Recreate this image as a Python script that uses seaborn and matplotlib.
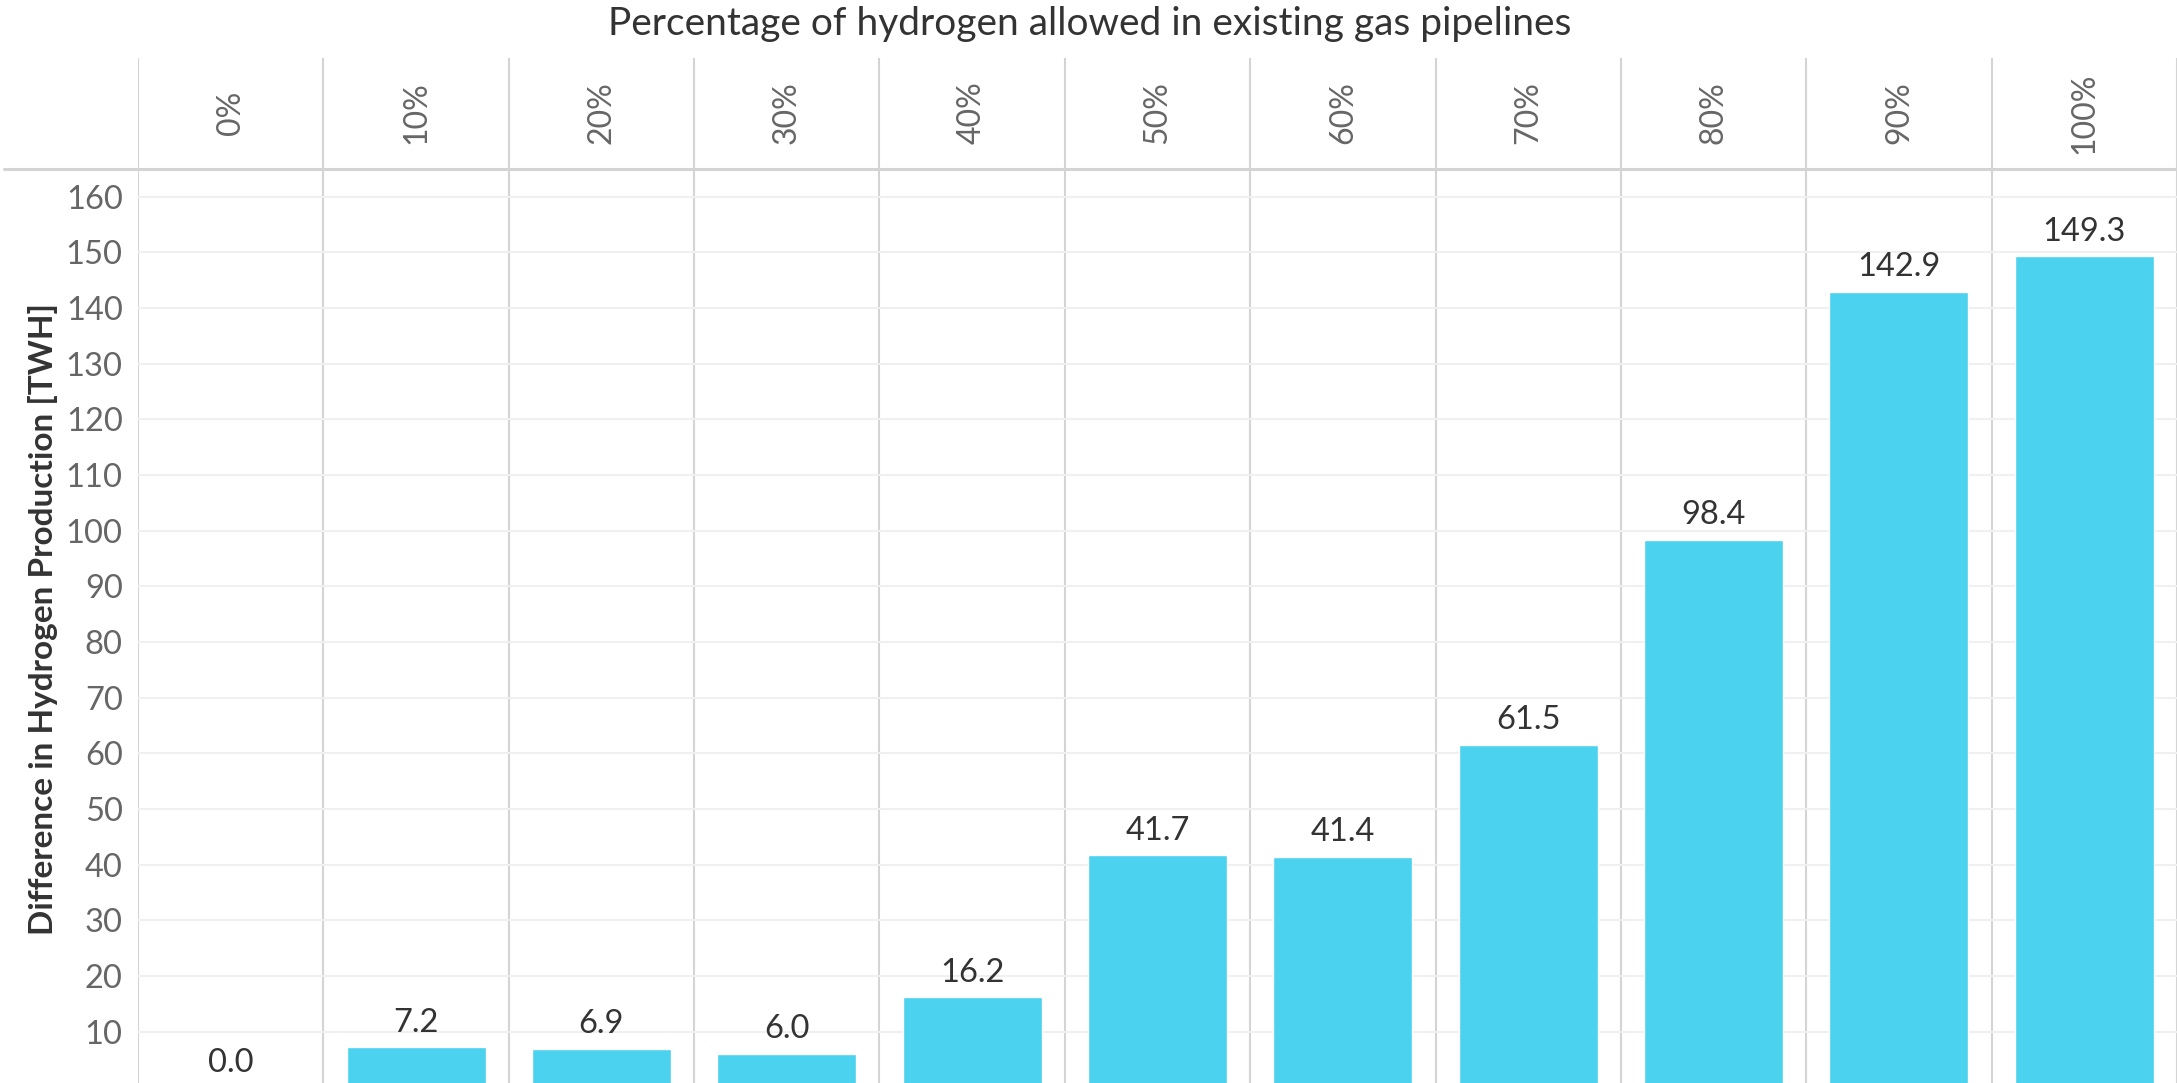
import matplotlib
matplotlib.use("Agg")
import matplotlib.pyplot as plt
import seaborn as sns
import pandas as pd
from matplotlib.lines import Line2D

categories = ["0%", "10%", "20%", "30%", "40%", "50%", "60%", "70%", "80%", "90%", "100%"]
values = [0.0, 7.2, 6.9, 6.0, 16.2, 41.7, 41.4, 61.5, 98.4, 142.9, 149.3]
yticks = [10, 20, 30, 40, 50, 60, 70, 80, 90, 100, 110, 120, 130, 140, 150, 160]

title = "Percentage of hydrogen allowed in existing gas pipelines"
ylabel = "Difference in Hydrogen Production [TWH]"

sns.set_theme(style="white")
plt.rcParams["font.family"] = ["Lato", "DejaVu Sans"]

W, H = 2177, 1083
fig = plt.figure(figsize=(W / 100, H / 100), dpi=100)
fig.patch.set_facecolor("white")

left = 138 / W
top_axes = 169 / H
ax = fig.add_axes([left, 0, 1 - left, 1 - top_axes])
hax = fig.add_axes([left, 1 - top_axes, 1 - left, (169 - 58) / H])

df = pd.DataFrame({"cat": categories, "val": values})
sns.barplot(data=df, x="cat", y="val", color="#4AD2EF", saturation=1, width=0.75, ax=ax)
for c in ax.containers:
    anns = ax.bar_label(c, fmt="%.1f", padding=7, fontsize=23.5, color="#333333")
    for a in anns:
        a.set_annotation_clip(False)

n = len(categories)
ax.set_xlim(-0.5, n - 0.5)
ax.set_ylim(0.8, 165)
ax.set_yticks(yticks)
ax.set_yticklabels([str(t) for t in yticks])
ax.tick_params(axis="y", labelsize=23.5, labelcolor="#666666", length=0, pad=11)
ax.set_xticks([])
ax.set_xlabel("")
ax.set_ylabel(ylabel, fontsize=24, fontweight="bold", color="#333333")
ax.yaxis.set_label_coords(-(138 - 58) / (W - 138), (H - 619) / (H - 169))
for s in ax.spines.values():
    s.set_visible(False)
ax.yaxis.grid(True, color="#f0f0f0", linewidth=1.5)
ax.set_axisbelow(True)
for i in range(n + 1):
    ax.axvline(i - 0.5, color="#d4d4d4", linewidth=1.5, zorder=0)

hax.set_xlim(-0.5, n - 0.5)
hax.set_ylim(0, 1)
hax.axis("off")
for i in range(n + 1):
    hax.axvline(i - 0.5, color="#d4d4d4", linewidth=1.5)
for i, c in enumerate(categories):
    hax.text(i, 0.505, c, rotation=90, ha="center", va="center", fontsize=23, color="#666666")

fig.add_artist(Line2D([4 / W, 1], [1 - top_axes, 1 - top_axes], transform=fig.transFigure,
                      color="#d4d4d4", linewidth=2.2))

fig.text(1090 / W, 1 - 35 / H, title, ha="center", va="baseline", fontsize=28, color="#333333")

fig.savefig("out.png", dpi=100, facecolor="white")
